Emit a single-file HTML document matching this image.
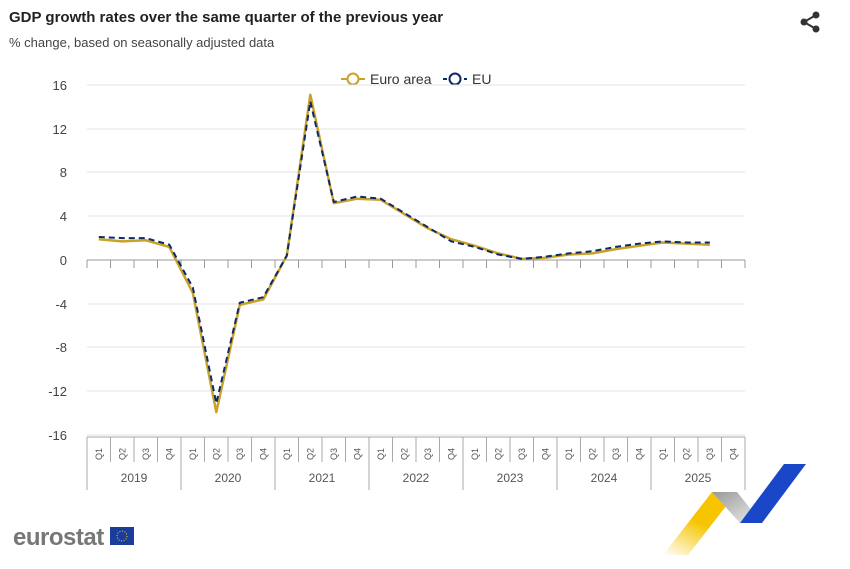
<!DOCTYPE html>
<html><head><meta charset="utf-8"><style>
body{margin:0;background:#fff;width:850px;height:564px;overflow:hidden;font-family:"Liberation Sans",Arial,sans-serif}
</style></head><body>
<svg width="850" height="564" viewBox="0 0 850 564" xmlns="http://www.w3.org/2000/svg" font-family="Liberation Sans, Arial, sans-serif">
<text x="9" y="22" font-size="15" font-weight="bold" fill="#222">GDP growth rates over the same quarter of the previous year</text>
<text x="9" y="47" font-size="13" fill="#444">% change, based on seasonally adjusted data</text>
<g fill="#333"><circle cx="816" cy="15" r="3.5"/><circle cx="804" cy="22" r="3.5"/><circle cx="816" cy="29" r="3.5"/></g>
<path d="M816 15 L804 22 L816 29" stroke="#333" stroke-width="2" fill="none"/>
<!-- legend -->
<line x1="341" y1="79" x2="365" y2="79" stroke="#c9a227" stroke-width="2"/><circle cx="353" cy="79" r="5.5" fill="#fff" stroke="#c9a227" stroke-width="2"/>
<text x="370" y="84" font-size="14" fill="#333">Euro area</text>
<line x1="443" y1="79" x2="467" y2="79" stroke="#0b2a6b" stroke-width="2" stroke-dasharray="4,3"/><circle cx="455" cy="79" r="5.5" fill="#fff" stroke="#0b2a6b" stroke-width="2"/>
<text x="472" y="84" font-size="14" fill="#333">EU</text>
<!-- grid -->
<g stroke="#e3e3e3" stroke-width="1">
<line x1="87" x2="745" y1="85" y2="85"/><line x1="87" x2="745" y1="129" y2="129"/><line x1="87" x2="745" y1="172" y2="172"/><line x1="87" x2="745" y1="216" y2="216"/><line x1="87" x2="745" y1="304" y2="304"/><line x1="87" x2="745" y1="347" y2="347"/><line x1="87" x2="745" y1="391" y2="391"/><line x1="87" x2="745" y1="435" y2="435"/>
</g>
<g font-size="13" fill="#444" text-anchor="end">
<text x="67" y="90">16</text><text x="67" y="134">12</text><text x="67" y="177">8</text><text x="67" y="221">4</text><text x="67" y="265">0</text><text x="67" y="309">-4</text><text x="67" y="352">-8</text><text x="67" y="396">-12</text><text x="67" y="440">-16</text>
</g>
<line x1="87" x2="745" y1="260" y2="260" stroke="#999"/>
<g id="ticks" stroke="#999"></g>
<!-- bottom axis -->
<g stroke="#aaa" stroke-width="1" id="bax"></g>
<g id="qlab" font-size="9" fill="#555"></g>
<g font-size="12" fill="#555" text-anchor="middle">
<text x="134" y="482">2019</text><text x="228" y="482">2020</text><text x="322" y="482">2021</text><text x="416" y="482">2022</text><text x="510" y="482">2023</text><text x="604" y="482">2024</text><text x="698" y="482">2025</text>
</g>
<polyline id="ea" fill="none" stroke="#c9a227" stroke-width="2.5" stroke-linejoin="round"/>
<polyline id="eu" fill="none" stroke="#0b2a6b" stroke-width="2" stroke-dasharray="6,4" stroke-linejoin="round"/>
<!-- logo -->
<text x="13" y="545" font-size="24" font-weight="bold" fill="#777" letter-spacing="-0.5">eurostat</text>
<rect x="110" y="527" width="24" height="18" fill="#1a3d9c"/>
<circle cx="122" cy="536" r="5" fill="none" stroke="#f4d03f" stroke-width="1" stroke-dasharray="1,1.6"/>
<defs><linearGradient id="yg" x1="0" y1="1" x2="0.6" y2="0"><stop offset="0" stop-color="#fff"/><stop offset="0.6" stop-color="#f6c500"/></linearGradient>
<linearGradient id="gg" x1="0" y1="0" x2="1" y2="1"><stop offset="0" stop-color="#999"/><stop offset="1" stop-color="#eee"/></linearGradient></defs>
<polygon points="663,555 712,492 737,492 688,555" fill="url(#yg)"/>
<polygon points="712,492 737,492 762,523 740,523" fill="url(#gg)"/>
<polygon points="740,523 762,523 806,464 784,464" fill="#1a47c8"/>
</svg>
<script>
var x0=87,w=658/28;
var ea=[1.9,1.7,1.8,1.2,-3.0,-13.9,-4.1,-3.6,0.4,15.1,5.2,5.6,5.5,4.2,2.9,1.9,1.3,0.6,0.1,0.2,0.5,0.6,1.0,1.3,1.6,1.5,1.4];
var eu=[2.1,2.0,2.0,1.4,-2.5,-13.1,-3.9,-3.4,0.4,14.5,5.3,5.8,5.6,4.3,3.0,1.7,1.2,0.5,0.1,0.3,0.6,0.8,1.2,1.5,1.7,1.6,1.6];
function pts(a){return a.map(function(v,i){return (x0+w*(i+0.5)).toFixed(1)+","+(260-v*10.94).toFixed(1)}).join(" ")}
document.getElementById('ea').setAttribute('points',pts(ea));
document.getElementById('eu').setAttribute('points',pts(eu));
var ns="http://www.w3.org/2000/svg",t=document.getElementById('ticks'),b=document.getElementById('bax'),q=document.getElementById('qlab');
function ln(g,a,b2,c,d){var l=document.createElementNS(ns,'line');l.setAttribute('x1',a);l.setAttribute('y1',b2);l.setAttribute('x2',c);l.setAttribute('y2',d);g.appendChild(l);}
for(var i=0;i<=28;i++){var x=x0+w*i;ln(t,x,260,x,268);ln(b,x,437,x,i%4==0?490:462);
 if(i<28){var tx=document.createElementNS(ns,'text');var cx=x+w/2+3;tx.setAttribute('transform','translate('+cx+',460) rotate(-90)');tx.textContent='Q'+(i%4+1);q.appendChild(tx);}}
ln(b,x0,437,x0+658,437);
</script>
</body></html>
